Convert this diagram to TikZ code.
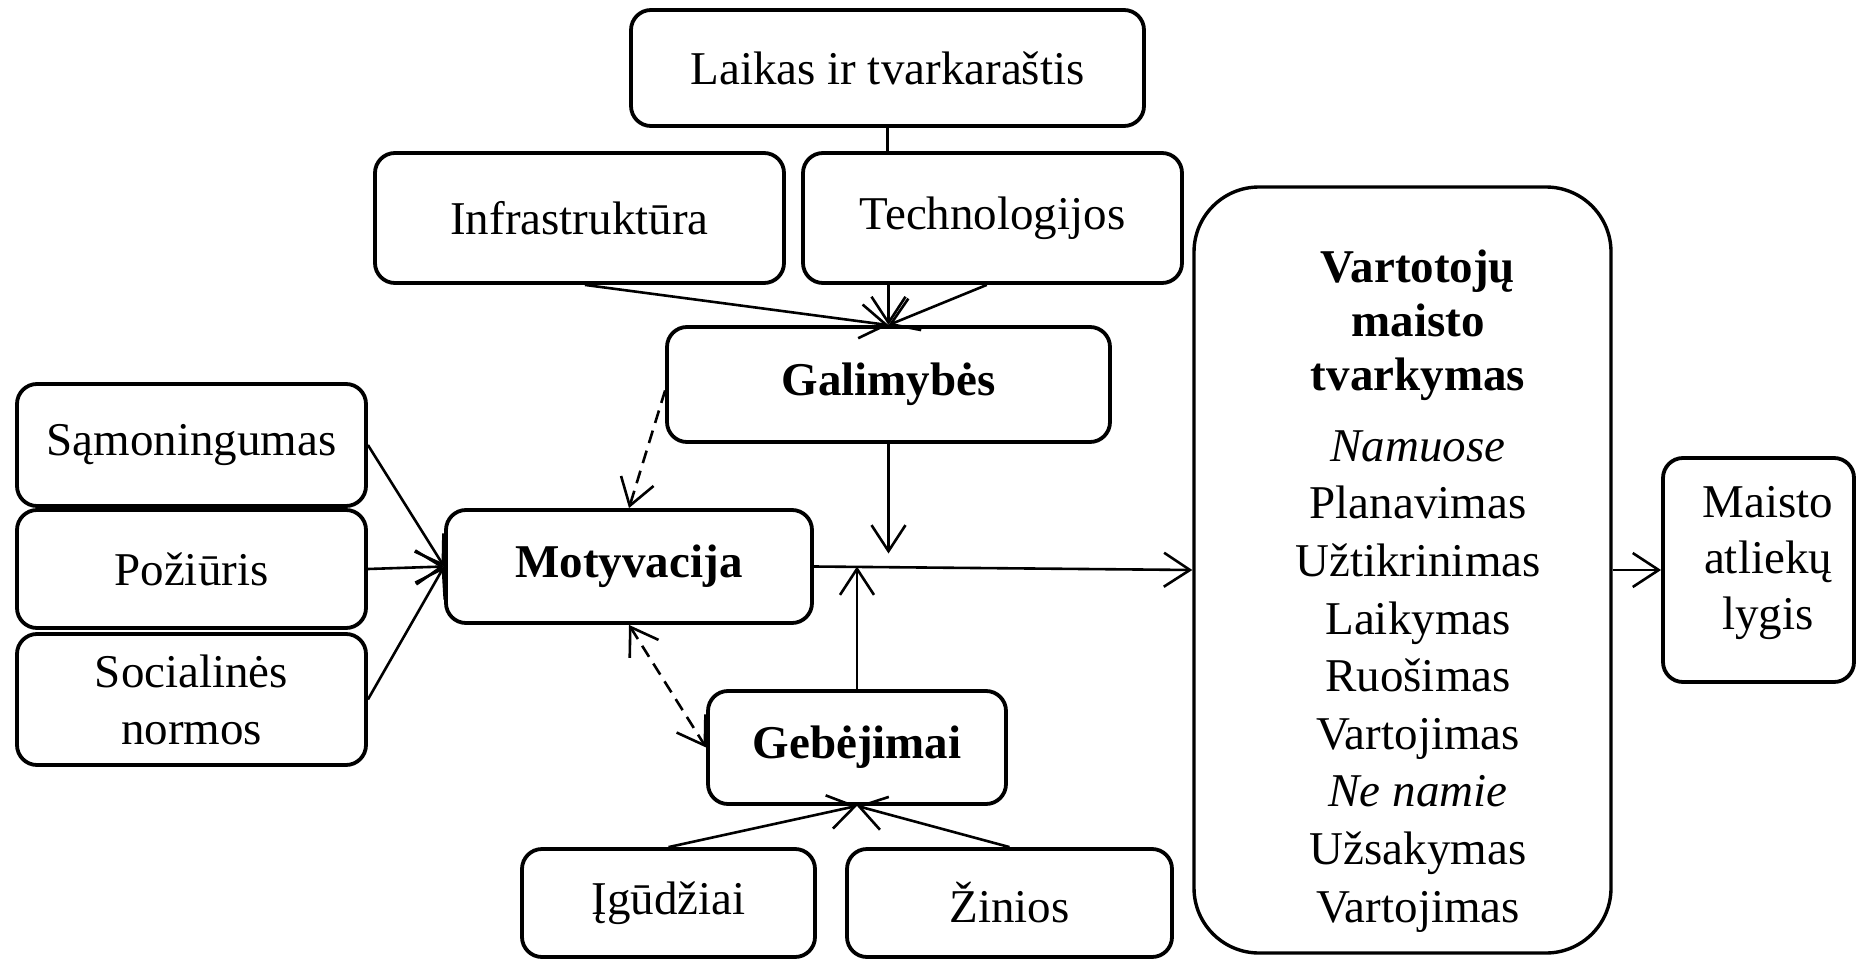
\documentclass[tikz,border=0pt]{standalone}
\usepackage{fontspec}
\setmainfont{Liberation Serif}
\usetikzlibrary{arrows.meta,calc}
\begin{document}
\begin{tikzpicture}[x=1pt,y=-1pt,
  box/.style={draw, line width=3.8pt, rounded corners=20pt, inner sep=0pt, align=center,
    font=\fontsize{47}{57}\selectfont},
  conn/.style={line width=2.6pt},
  arr/.style={conn, -{Straight Barb[length=26pt,width=34pt]}},
  darr/.style={conn, dash pattern=on 13pt off 8pt, -{Straight Barb[length=26pt,width=34pt]}},
  ddarr/.style={conn, dash pattern=on 13pt off 8pt, {Straight Barb[length=26pt,width=34pt]}-{Straight Barb[length=26pt,width=34pt]}}
]
\useasboundingbox (0,0) rectangle (1857,960);
\fill[white] (0,0) rectangle (1857,960);

\node[box, minimum width=513pt, minimum height=116pt] (laikas) at (887.5,68) {Laikas ir tvarkaraštis};
\node[box, minimum width=409pt, minimum height=130pt] (infra) at (579.5,218) {Infrastruktūra};
\node[box, minimum width=379pt, minimum height=130pt] (tech) at (992.5,218) {Technologijos};
\node[box, minimum width=443pt, minimum height=115pt] (galim) at (888.5,384.5) {\textbf{Galimybės}};
\node[box, minimum width=349pt, minimum height=122pt] (samon) at (191.5,445) {Sąmoningumas};
\node[box, minimum width=349pt, minimum height=118pt] (poziuris) at (191.5,569) {Požiūris};
\node[box, minimum width=349pt, minimum height=131pt] (social) at (191.5,699.5) {Socialinės\\normos};
\node[box, minimum width=366pt, minimum height=113pt] (motyv) at (629,566.5) {\textbf{Motyvacija}};
\node[box, minimum width=298pt, minimum height=113pt] (gebej) at (857,747.5) {\textbf{Gebėjimai}};
\node[box, minimum width=293pt, minimum height=108pt] (igud) at (668.5,903) {Įgūdžiai};
\node[box, minimum width=325pt, minimum height=108pt] (zinios) at (1009.5,903) {Žinios};
\node[box, line width=3.4pt, rounded corners=65pt, minimum width=417pt, minimum height=766pt] (vart) at (1402.5,570) {};
\node[align=center, inner sep=0pt, font=\fontsize{47}{57.6}\selectfont] (varttext) at (1418,591)
  {\textbf{Vartotojų}\\[-3.6pt]\textbf{maisto}\\[-3.6pt]\textbf{tvarkymas}\\[13pt]
   \textit{Namuose}\\Planavimas\\Užtikrinimas\\Laikymas\\Ruošimas\\Vartojimas\\
   \textit{Ne namie}\\Užsakymas\\Vartojimas};
\node[box, minimum width=191pt, minimum height=224pt] (maisto) at (1758.5,570) {};
\node[align=center, inner sep=0pt, font=\fontsize{47}{56}\selectfont] (maistotext) at (1768,563) {Maisto\\atliekų\\lygis};

\coordinate (gdown) at ($(galim.south |- motyv.east)+(0,-13)$);

\draw[conn] (laikas.south) -- (laikas.south |- tech.north);
\draw[arr] ($(infra.south west)!0.513!(infra.south east)$) -- (galim.north);
\draw[arr] (tech.south -| galim.north) -- (galim.north);
\draw[arr] ($(tech.south west)!0.485!(tech.south east)$) -- (galim.north);

\draw[arr] (samon.east) -- (motyv.west);
\draw[arr] (poziuris.east) -- (motyv.west);
\draw[arr] (social.east) -- (motyv.west);

\draw[darr] ($(galim.north west)!0.55!(galim.south west)$) -- (motyv.north);
\draw[ddarr] (motyv.south) -- (gebej.west);

\draw[arr] (motyv.east) -- (vart.west);
\draw[arr] (galim.south) -- (gdown);
\draw[arr] (gebej.north) -- (gebej.north |- motyv.east);

\draw[arr] (igud.north) -- (gebej.south);
\draw[arr] (zinios.north) -- (gebej.south);

\draw[arr] (vart.east) -- (maisto.west);
\end{tikzpicture}
\end{document}
